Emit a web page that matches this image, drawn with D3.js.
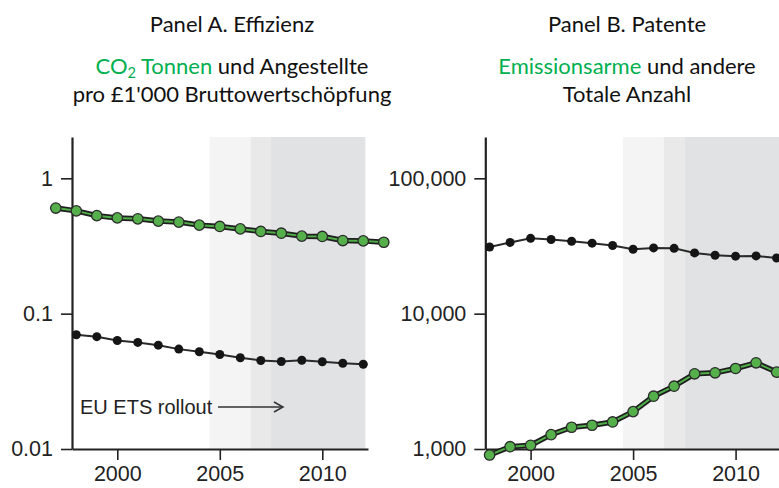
<!DOCTYPE html>
<html>
<head>
<meta charset="utf-8">
<script src="https://cdn.jsdelivr.net/npm/d3@7"></script>
<style>
html,body{margin:0;padding:0;background:#fff;overflow:hidden;}
</style>
</head>
<body>
<svg id="chart" width="779" height="488"></svg>
<script>
// ---- data ----
const yearsA1 = [1997,1998,1999,2000,2001,2002,2003,2004,2005,2006,2007,2008,2009,2010,2011,2012,2013];
const co2PerGVA = [0.603,0.575,0.53,0.51,0.502,0.483,0.475,0.451,0.441,0.423,0.405,0.393,0.374,0.372,0.347,0.345,0.337];
const yearsA2 = [1998,1999,2000,2001,2002,2003,2004,2005,2006,2007,2008,2009,2010,2011,2012];
const employeesPerGVA = [0.0699,0.0676,0.0634,0.0613,0.0585,0.0547,0.0523,0.0499,0.0472,0.0451,0.0443,0.0453,0.0441,0.0430,0.0423];
const yearsB = [1998,1999,2000,2001,2002,2003,2004,2005,2006,2007,2008,2009,2010,2011,2012];
const lowEmissionPatents = [903,1040,1065,1276,1448,1498,1585,1889,2455,2912,3594,3655,3935,4335,3700];
const otherPatents = [31100,33600,36000,35300,34300,33200,31900,29900,30600,30400,28100,27000,26600,26700,25800];
const xTicks = [2000,2005,2010];
const yTicksA = [1,0.1,0.01];
const yTickLabelsA = ["1","0.1","0.01"];
const yTicksB = [100000,10000,1000];
const yTickLabelsB = ["100,000","10,000","1,000"];
const phases = [[2004.5,2006.5,"#f4f4f4"],[2006.5,2007.5,"#e9e9ea"],[2007.5,2012.1,"#e1e2e4"]];

const svg = d3.select("#chart");
const GREEN_TXT = "#00b050";
const TFONT = "Lato, 'Open Sans', sans-serif";
const AFONT = "'Liberation Sans', Arial, Helvetica, sans-serif";

function panel(opts){
  const g = svg.append("g").attr("transform",`translate(${opts.dx},0)`);
  const x = d3.scaleLinear().domain([1997.79,2012.23]).range([72,368]);
  const y = d3.scaleLog().domain(opts.yDomain).range([449,137]);

  g.selectAll("rect.ph").data(opts.phases).enter().append("rect")
    .attr("x",d=>x(d[0])).attr("width",d=>x(d[1])-x(d[0]))
    .attr("y",137).attr("height",449-137).attr("fill",d=>d[2]);

  const ax = g.append("g").attr("transform","translate(0,449)")
    .call(d3.axisBottom(x).tickValues(xTicks).tickFormat(d3.format("d")).tickSizeInner(11).tickSizeOuter(0).tickPadding(6));
  const ay = g.append("g").attr("transform","translate(72,0)")
    .call(d3.axisLeft(y).tickValues(opts.yTicks).tickFormat((d,i)=>opts.yLabels[i]).tickSizeInner(11).tickSizeOuter(0).tickPadding(8));
  [ax,ay].forEach(a=>{
    a.attr("font-family",AFONT).attr("font-size",21.5);
    a.select(".domain").attr("stroke","#222").attr("stroke-width",2.2);
    a.selectAll(".tick line").attr("stroke","#222").attr("stroke-width",1.6);
    a.selectAll(".tick text").attr("fill","#222").style("font-family",AFONT).style("font-size","21.5px");
  });

  const blk = opts.black;
  const lineB = d3.line().x(d=>x(d[0])).y(d=>y(d[1]));
  g.append("path").datum(blk).attr("d",lineB).attr("fill","none").attr("stroke","#2a2a2a").attr("stroke-width",2);
  g.selectAll("circle.b").data(blk).enter().append("circle")
    .attr("cx",d=>x(d[0])).attr("cy",d=>y(d[1])).attr("r",4.5).attr("fill","#151515");

  const grn = opts.green;
  g.append("path").datum(grn).attr("d",lineB).attr("fill","none").attr("stroke","#1e1e1e").attr("stroke-width",5.5).attr("stroke-linejoin","round");
  g.append("path").datum(grn).attr("d",lineB).attr("fill","none").attr("stroke","#4fae48").attr("stroke-width",2).attr("stroke-linejoin","round");
  g.selectAll("circle.g").data(grn).enter().append("circle")
    .attr("cx",d=>x(d[0])).attr("cy",d=>y(d[1])).attr("r",5.2)
    .attr("fill","#55b04c").attr("stroke","#2b2b2b").attr("stroke-width",1.3);
  return {g,x,y};
}

const A = panel({dx:0,yDomain:[0.01,2.02],yTicks:yTicksA,yLabels:yTickLabelsA,
  phases:phases,
  black:yearsA2.map((d,i)=>[d,employeesPerGVA[i]]),
  green:yearsA1.map((d,i)=>[d,co2PerGVA[i]])});

const phasesB = phases.map((p,i)=> i===2 ? [p[0],2013,p[2]] : p);
const B = panel({dx:413.3,yDomain:[1000,202000],yTicks:yTicksB,yLabels:yTickLabelsB,
  phases:phasesB,
  black:yearsB.map((d,i)=>[d,otherPatents[i]]),
  green:yearsB.map((d,i)=>[d,lowEmissionPatents[i]])});

svg.node().appendChild(A.g.node());

A.g.append("text").attr("x",80).attr("y",414).text("EU ETS rollout")
  .style("font-family",AFONT).style("font-size","20px").attr("fill","#222");
A.g.append("line").attr("x1",218).attr("x2",282).attr("y1",407).attr("y2",407).attr("stroke","#333").attr("stroke-width",1.5);
A.g.append("path").attr("d","M274,402 L283,407 L274,412").attr("fill","none").attr("stroke","#333").attr("stroke-width",1.5);

function title(cx, lines){
  lines.forEach(l=>{
    const t = svg.append("text").attr("x",cx).attr("y",l.y).attr("text-anchor","middle")
      .style("font-family",TFONT).style("font-size","22px").attr("fill","#111");
    l.parts.forEach(p=>{
      const ts = t.append("tspan").text(p.t);
      if(p.c) ts.attr("fill",p.c);
      if(p.sub) ts.attr("font-size","14.5px").attr("dy",4);
      if(p.after) ts.attr("dy",-4);
    });
  });
}
title(232,[
  {y:32,parts:[{t:"Panel A. Effizienz"}]},
  {y:74,parts:[{t:"CO",c:GREEN_TXT},{t:"2",c:GREEN_TXT,sub:true},{t:" Tonnen",c:GREEN_TXT,after:true},{t:" und Angestellte"}]},
  {y:102,parts:[{t:"pro £1'000 Bruttowertschöpfung"}]}
]);
title(627,[
  {y:32,parts:[{t:"Panel B. Patente"}]},
  {y:74,parts:[{t:"Emissionsarme",c:GREEN_TXT},{t:" und andere"}]},
  {y:102,parts:[{t:"Totale Anzahl"}]}
]);
</script>
</body>
</html>
